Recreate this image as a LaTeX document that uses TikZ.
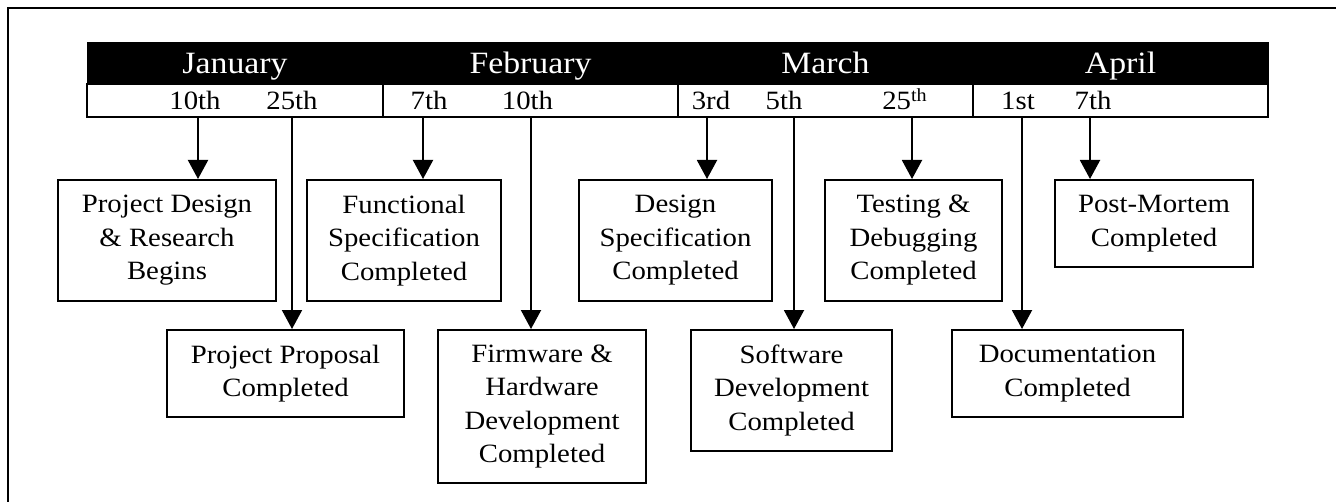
\documentclass[tikz,border=0pt]{standalone}
\usepackage{fontspec}
\setmainfont{Liberation Serif}[FakeStretch=1.09]
\usetikzlibrary{arrows.meta}
\newcommand\tlboxfont{\fontsize{13.2}{16.75}\selectfont}
\newcommand\tldayfont{\fontsize{13.2}{16}\selectfont}
\newcommand\tlmonthfont{\fontsize{15.5}{18}\selectfont}
\tikzset{
  box/.style={draw, line width=1pt, align=center, font=\tlboxfont, inner sep=2pt},
  arr/.style={line width=1pt, -{Triangle[width=10pt,length=9.5pt]}},
  day/.style={anchor=base, font=\tldayfont, inner sep=0pt},
  month/.style={anchor=base, font=\tlmonthfont, text=white, inner sep=0pt},
}
\begin{document}
\begin{tikzpicture}[x=0.5pt,y=-0.5pt]
\useasboundingbox (0,0) rectangle (1336,502);
% outer frame (cut off at right and bottom)
\draw[line width=1pt] (8,502) -- (8,8) -- (1336,8);
% month bar
\node[fill=black, minimum width=591pt, minimum height=21pt, inner sep=0pt, outer sep=0pt] (mbar) at (678,63) {};
\node[draw, line width=1pt, minimum width=590.5pt, minimum height=16.5pt, inner sep=0pt, outer sep=0pt] (dbar) at (677.5,100.5) {};
\draw[line width=1pt] (383,84) -- (383,117) (678,84) -- (678,117) (973,84) -- (973,117);
% months
\node[month] (jan) at (235,74) {January};
\node[month] (feb) at (530.5,74) {February};
\node[month] (mar) at (825.5,74) {March};
\node[month] (apr) at (1120.5,74) {April};
% days
\node[day] (d1) at (195,110) {10th};
\node[day] (d2) at (292,110) {25th};
\node[day] (d3) at (429,110) {7th};
\node[day] (d4) at (527.5,110) {10th};
\node[day] (d5) at (711,110) {3rd};
\node[day] (d6) at (784,110) {5th};
\node[day] (d7) at (905,110) {25\textsuperscript{th}};
\node[day] (d8) at (1018,110) {1st};
\node[day] (d9) at (1093,110) {7th};
% boxes
\node[box, minimum width=109pt, minimum height=60.5pt] (pd) at (167,240.5) {Project Design\\\& Research\\Begins};
\node[box, minimum width=97pt, minimum height=60.5pt] (fs) at (404,240.5) {Functional\\Specification\\Completed};
\node[box, minimum width=96.5pt, minimum height=60.5pt] (ds) at (675.5,240.5) {Design\\Specification\\Completed};
\node[box, minimum width=88.5pt, minimum height=60.5pt] (td) at (913.5,240.5) {Testing \&\\Debugging\\Completed};
\node[box, minimum width=99pt, minimum height=43.5pt] (pm) at (1154,223.5) {Post-Mortem\\Completed};
\node[box, minimum width=118.5pt, minimum height=43.5pt] (pp) at (285.5,373.5) {Project Proposal\\Completed};
\node[box, minimum width=104pt, minimum height=76.5pt] (fw) at (542,406.5) {Firmware \&\\Hardware\\Development\\Completed};
\node[box, minimum width=100.5pt, minimum height=60.5pt] (sw) at (791.5,390.5) {Software\\Development\\Completed};
\node[box, minimum width=115.5pt, minimum height=43.5pt] (doc) at (1067.5,373.5) {Documentation\\Completed};
% arrow starts
\coordinate (t1) at (198,117);
\coordinate (t2) at (292,117);
\coordinate (t3) at (423,117);
\coordinate (t4) at (531,117);
\coordinate (t5) at (707,117);
\coordinate (t6) at (794,117);
\coordinate (t7) at (912,117);
\coordinate (t8) at (1022,117);
\coordinate (t9) at (1090,117);
\draw[arr] (t1) -- (t1 |- pd.north);
\draw[arr] (t2) -- (t2 |- pp.north);
\draw[arr] (t3) -- (t3 |- fs.north);
\draw[arr] (t4) -- (t4 |- fw.north);
\draw[arr] (t5) -- (t5 |- ds.north);
\draw[arr] (t6) -- (t6 |- sw.north);
\draw[arr] (t7) -- (t7 |- td.north);
\draw[arr] (t8) -- (t8 |- doc.north);
\draw[arr] (t9) -- (t9 |- pm.north);
\end{tikzpicture}
\end{document}
